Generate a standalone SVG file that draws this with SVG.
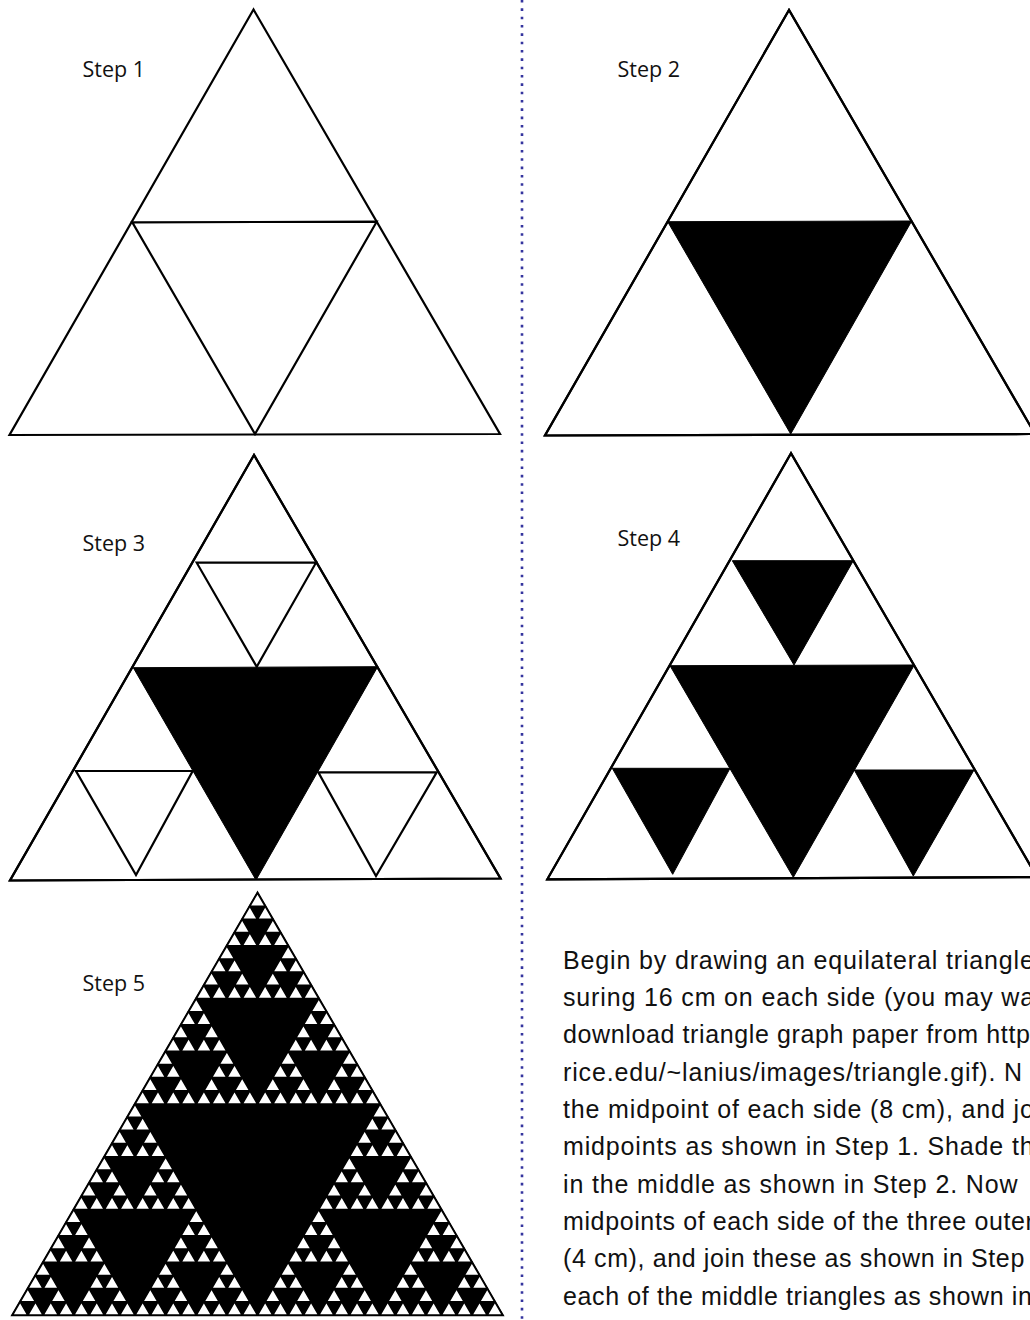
<svg xmlns="http://www.w3.org/2000/svg" xmlns:xlink="http://www.w3.org/1999/xlink" width="1030" height="1320" viewBox="0 0 1030 1320">
<style>
.tri{fill:#fff;stroke:#000;stroke-width:2.2;stroke-linejoin:miter}
.blk{fill:#000;stroke:#000;stroke-width:1}
.out{fill:none;stroke:#000;stroke-width:2.2;stroke-linejoin:miter}
.lbl{font-family:"Open Sans","Liberation Sans",sans-serif;font-size:21.5px;fill:#111}
.body{font-family:"Liberation Sans","DejaVu Sans",sans-serif;font-size:25px;letter-spacing:0.85px;fill:#111}
.tight{letter-spacing:0.62px}
.wt{fill:#fff;stroke:#000;stroke-width:1.6;stroke-linejoin:miter}
</style>
<defs>
<polygon id="L0" class="wt" points="0,0 -7.656,13.188 7.656,13.188"/>
<g id="L1"><use xlink:href="#L0"/><use xlink:href="#L0" x="-7.656" y="13.188"/><use xlink:href="#L0" x="7.656" y="13.188"/></g>
<g id="L2"><use xlink:href="#L1"/><use xlink:href="#L1" x="-15.3125" y="26.375"/><use xlink:href="#L1" x="15.3125" y="26.375"/></g>
<g id="L3"><use xlink:href="#L2"/><use xlink:href="#L2" x="-30.625" y="52.75"/><use xlink:href="#L2" x="30.625" y="52.75"/></g>
<g id="L4"><use xlink:href="#L3"/><use xlink:href="#L3" x="-61.25" y="105.5"/><use xlink:href="#L3" x="61.25" y="105.5"/></g>
<g id="L5"><use xlink:href="#L4"/><use xlink:href="#L4" x="-122.5" y="211"/><use xlink:href="#L4" x="122.5" y="211"/></g>
</defs>
<rect width="1030" height="1320" fill="#fff"/>

<g id="divider">
<line x1="522" y1="0" x2="522" y2="1320" stroke="#34349e" stroke-width="2.6" stroke-dasharray="2.6 5.73"/>
</g>

<g id="step1">
<polygon class="tri" points="253.5,9.5 9.5,435 500,434"/>
<polygon class="out" points="132.3,222.3 376.7,221.7 255,434"/>
<text class="lbl" x="82.5" y="77">Step 1</text>
</g>

<g id="step2">
<polygon class="tri" points="789,10 545,435.5 1035,434"/>
<polygon class="blk" points="667.7,221.7 911.7,221 790.7,434"/>
<polygon class="out" points="789,10 545,435.5 1035,434"/>
<text class="lbl" x="617.5" y="77">Step 2</text>
</g>

<g id="step3">
<polygon class="tri" points="254,455 10,880.5 500.5,878.5"/>
<polygon class="blk" points="133.3,667.7 377.7,666.7 256,880"/>
<polygon class="out" points="196.7,562.7 316,562.7 256.7,666.7"/>
<polygon class="out" points="76,771 192.7,771 136,875"/>
<polygon class="out" points="318.3,772.3 436.7,772.3 376,876"/>
<polygon class="out" points="254,455 10,880.5 500.5,878.5"/>
<text class="lbl" x="82.5" y="551">Step 3</text>
</g>

<g id="step4">
<polygon class="tri" points="791,453.3 547.3,879.3 1037,877"/>
<polygon class="blk" points="670,665.7 914.3,665 793.3,877.3"/>
<polygon class="blk" points="732.3,560.7 853.3,560.7 794,665"/>
<polygon class="blk" points="612.3,768.3 730,768.3 672.7,874.3"/>
<polygon class="blk" points="854.3,770 974,770 913.3,876"/>
<polygon class="out" points="791,453.3 547.3,879.3 1037,877"/>
<text class="lbl" x="617.5" y="546">Step 4</text>
</g>

<g id="step5">
<polygon points="257.5,893 12.5,1315 502.5,1315" fill="#000" stroke="#000" stroke-width="2.4" stroke-linejoin="miter"/>
<use xlink:href="#L5" x="257.5" y="893"/>
<text class="lbl" x="82.5" y="991">Step 5</text>
</g>

<g id="description">
<text class="body" x="563" y="968.5">Begin by drawing an equilateral triangle</text>
<text class="body" x="563" y="1006">suring 16 cm on each side (you may wa</text>
<text class="body tight" x="563" y="1043.3">download triangle graph paper from http</text>
<text class="body" x="563" y="1080.7">rice.edu/~lanius/images/triangle.gif). N</text>
<text class="body" x="563" y="1118">the midpoint of each side (8 cm), and jo</text>
<text class="body" x="563" y="1155.3">midpoints as shown in Step 1. Shade th</text>
<text class="body" x="563" y="1192.6">in the middle as shown in Step 2. Now</text>
<text class="body tight" x="563" y="1230">midpoints of each side of the three outer</text>
<text class="body tight" x="563" y="1267.3">(4 cm), and join these as shown in Step</text>
<text class="body tight" x="563" y="1304.6">each of the middle triangles as shown in</text>
</g>
</svg>
